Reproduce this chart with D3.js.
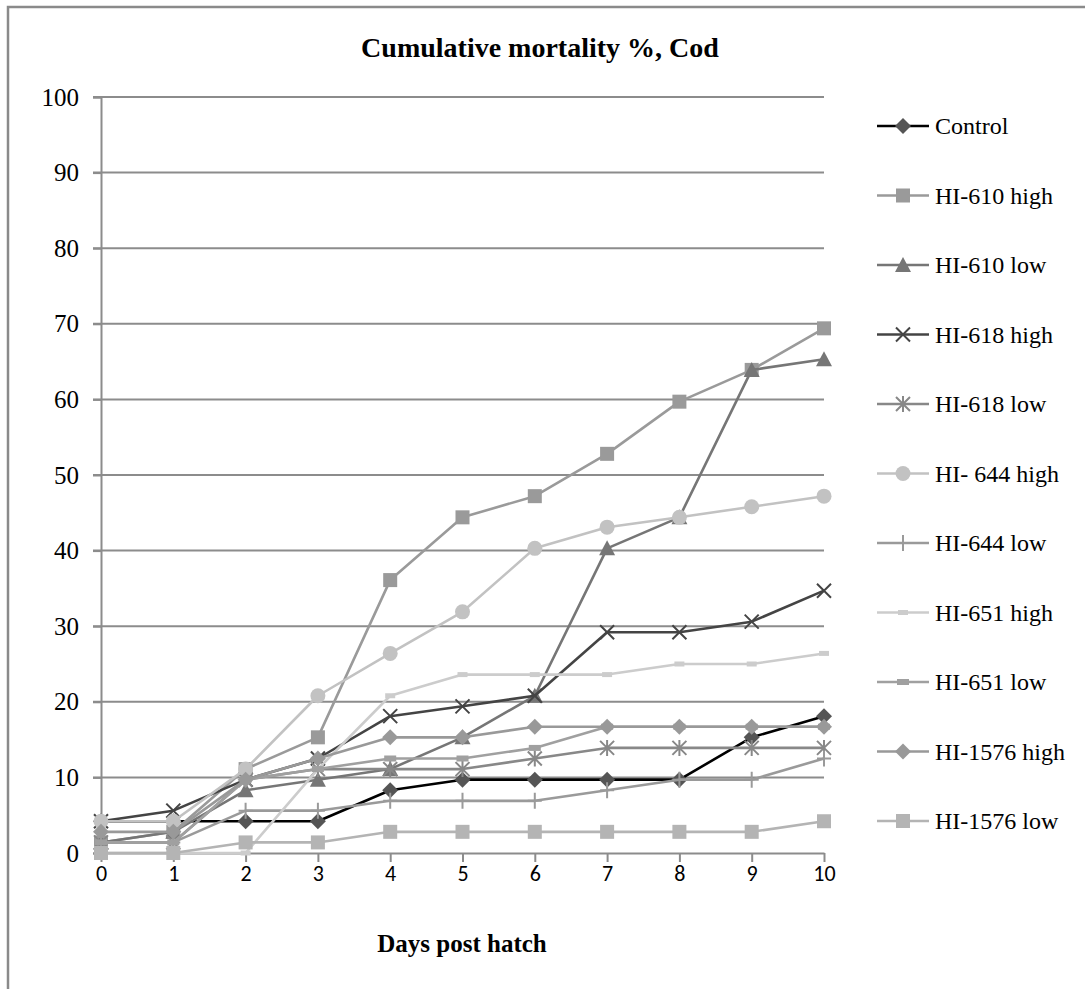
<!DOCTYPE html>
<html><head><meta charset="utf-8">
<script src="https://cdn.jsdelivr.net/npm/d3@7/dist/d3.min.js"></script>
<style>
body{margin:0;background:#fff}svg{display:block}
.serif{font-family:"Liberation Serif","Times New Roman",Times,serif}
.sans{font-family:"Carlito","Liberation Sans",Arial,sans-serif}
</style>
</head><body>
<script>
const days = [0,1,2,3,4,5,6,7,8,9,10];
const yTicks = [0,10,20,30,40,50,60,70,80,90,100];
const seriesNames = ["Control","HI-610 high","HI-610 low","HI-618 high","HI-618 low","HI- 644 high","HI-644 low","HI-651 high","HI-651 low","HI-1576 high","HI-1576 low"];
const control    = [4.2,4.2,4.2,4.2,8.3,9.7,9.7,9.7,9.7,15.3,18.1];
const hi610high  = [1.4,2.8,11.1,15.3,36.1,44.4,47.2,52.8,59.7,63.9,69.4];
const hi610low   = [1.4,2.8,8.3,9.7,11.1,15.3,20.8,40.3,44.4,63.9,65.3];
const hi618high  = [4.2,5.6,9.7,12.5,18.1,19.4,20.8,29.2,29.2,30.6,34.7];
const hi618low   = [1.4,1.4,9.7,11.1,11.1,11.1,12.5,13.9,13.9,13.9,13.9];
const hi644high  = [4.2,4.2,11.1,20.8,26.4,31.9,40.3,43.1,44.4,45.8,47.2];
const hi644low   = [1.4,1.4,5.6,5.6,6.9,6.9,6.9,8.3,9.7,9.7,12.5];
const hi651high  = [0,0,0,11.1,20.8,23.6,23.6,23.6,25.0,25.0,26.4];
const hi651low   = [1.4,1.4,9.7,11.1,12.5,12.5,13.9,16.7,16.7,16.7,16.7];
const hi1576high = [2.8,2.8,9.7,12.5,15.3,15.3,16.7,16.7,16.7,16.7,16.7];
const hi1576low  = [0,0,1.4,1.4,2.8,2.8,2.8,2.8,2.8,2.8,4.2];
const allValues = [control,hi610high,hi610low,hi618high,hi618low,hi644high,hi644low,hi651high,hi651low,hi1576high,hi1576low];

const styles = [
  {line:"#000000", fill:"#555555", m:"diamond"},
  {line:"#9a9a9a", fill:"#9a9a9a", m:"square"},
  {line:"#767676", fill:"#767676", m:"triangle"},
  {line:"#444444", fill:"#444444", m:"x"},
  {line:"#888888", fill:"#888888", m:"star"},
  {line:"#c2c2c2", fill:"#c2c2c2", m:"circle"},
  {line:"#9a9a9a", fill:"#9a9a9a", m:"plus"},
  {line:"#cccccc", fill:"#cccccc", m:"dash"},
  {line:"#a0a0a0", fill:"#a0a0a0", m:"dash2"},
  {line:"#999999", fill:"#999999", m:"diamond"},
  {line:"#b4b4b4", fill:"#b4b4b4", m:"square"}
];

const W = 1085, H = 989;
const svg = d3.select("body").append("svg").attr("width", W).attr("height", H);
svg.append("rect").attr("x",8).attr("y",7).attr("width",W+20).attr("height",H+20)
  .attr("fill","#fff").attr("stroke","#8a8a8a").attr("stroke-width",2.5);

const x = d3.scaleLinear().domain([0,10]).range([101,824]);
const y = d3.scaleLinear().domain([0,100]).range([853,97]);

// title
svg.append("text").attr("class","serif").attr("x",540).attr("y",57).attr("text-anchor","middle")
  .style("font-weight","bold").style("font-size","28px").text("Cumulative mortality %, Cod");

// gridlines
svg.append("g").selectAll("line").data(yTicks.filter(d=>d>0)).join("line")
  .attr("x1",93).attr("x2",824).attr("y1",d=>y(d)).attr("y2",d=>y(d))
  .attr("stroke","#8c8c8c").attr("stroke-width",2);

// y axis
const yAxis = d3.axisLeft(y).tickValues(yTicks).tickSize(8).tickPadding(14);
const gy = svg.append("g").attr("transform","translate(101,0)").call(yAxis);
gy.attr("font-family",null).attr("font-size",null);
gy.select(".domain").attr("stroke","#8c8c8c").attr("stroke-width",2);
gy.selectAll(".tick line").attr("stroke","#8c8c8c").attr("stroke-width",2);
gy.selectAll(".tick text").attr("class","serif").style("font-size","25px").attr("fill","#000");

// x axis
const xAxis = d3.axisBottom(x).tickValues(days).tickSize(9).tickPadding(3).tickSizeOuter(0);
const gx = svg.append("g").attr("transform","translate(0,853)").call(xAxis);
gx.attr("font-family",null).attr("font-size",null);
gx.select(".domain").attr("stroke","#8c8c8c").attr("stroke-width",2);
gx.selectAll(".tick line").attr("stroke","#8c8c8c").attr("stroke-width",2);
gx.selectAll(".tick text").attr("class","sans").style("font-size","22px").attr("fill","#000");

svg.append("text").attr("class","serif").attr("x",462).attr("y",952).attr("text-anchor","middle")
  .style("font-weight","bold").style("font-size","25px").text("Days post hatch");

function drawMarker(g, st, cx, cy) {
  const m = st.m;
  if (m === "diamond") {
    g.append("path").attr("d",`M${cx},${cy-8}L${cx+8},${cy}L${cx},${cy+8}L${cx-8},${cy}Z`).attr("fill",st.fill);
  } else if (m === "square") {
    g.append("rect").attr("x",cx-7).attr("y",cy-7).attr("width",14).attr("height",14).attr("fill",st.fill);
  } else if (m === "triangle") {
    g.append("path").attr("d",`M${cx},${cy-8}L${cx+8},${cy+7}L${cx-8},${cy+7}Z`).attr("fill",st.fill);
  } else if (m === "x") {
    g.append("path").attr("d",`M${cx-7},${cy-7}L${cx+7},${cy+7}M${cx+7},${cy-7}L${cx-7},${cy+7}`)
      .attr("stroke",st.fill).attr("stroke-width",2).attr("fill","none");
  } else if (m === "star") {
    g.append("path").attr("d",`M${cx-7},${cy-7}L${cx+7},${cy+7}M${cx+7},${cy-7}L${cx-7},${cy+7}M${cx},${cy-8}L${cx},${cy+8}`)
      .attr("stroke",st.fill).attr("stroke-width",2).attr("fill","none");
  } else if (m === "circle") {
    g.append("circle").attr("cx",cx).attr("cy",cy).attr("r",7.5).attr("fill",st.fill);
  } else if (m === "plus") {
    g.append("path").attr("d",`M${cx-7},${cy}L${cx+7},${cy}M${cx},${cy-8}L${cx},${cy+8}`)
      .attr("stroke",st.fill).attr("stroke-width",2).attr("fill","none");
  } else if (m === "dash") {
    g.append("rect").attr("x",cx-5).attr("y",cy-2.5).attr("width",10).attr("height",5).attr("fill",st.fill);
  } else if (m === "dash2") {
    g.append("rect").attr("x",cx-6).attr("y",cy-3).attr("width",12).attr("height",6).attr("fill",st.fill);
  }
}

const line = d3.line().x((d,i)=>x(days[i])).y(d=>y(d));
allValues.forEach((vals, si) => {
  const st = styles[si];
  const g = svg.append("g");
  g.append("path").datum(vals).attr("d",line).attr("fill","none")
    .attr("stroke",st.line).attr("stroke-width",2.6).attr("stroke-linejoin","round");
  vals.forEach((v,i)=>drawMarker(g, st, x(days[i]), y(v)));
});

// legend
const legY0 = 126, legStep = 69.5;
seriesNames.forEach((name, si) => {
  const st = styles[si];
  const cy = legY0 + si*legStep;
  const g = svg.append("g");
  g.append("line").attr("x1",877).attr("x2",929).attr("y1",cy).attr("y2",cy)
    .attr("stroke",st.line).attr("stroke-width",2.6);
  drawMarker(g, st, 903, cy);
  g.append("text").attr("class","serif").attr("x",935).attr("y",cy+8)
    .style("font-size","24px").style("white-space","pre")
    .attr("fill","#000").text(name);
});
</script>
</body></html>
